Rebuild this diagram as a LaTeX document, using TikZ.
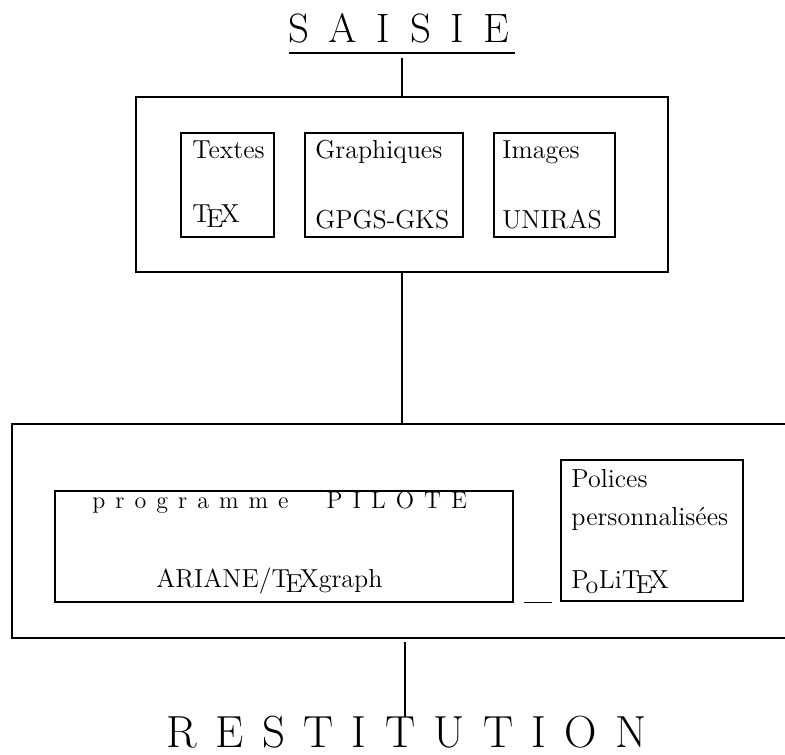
\documentclass[tikz,border=0pt]{standalone}
\usetikzlibrary{fit}
\newdimen\spcgap
\def\spc#1{\spcA#1\relax}
\def\spcA#1{\ifx#1\relax\else#1\kern\spcgap\expandafter\spcA\fi}
\tikzset{
  box/.style={draw, line width=0.7pt, inner sep=0pt},
  lbl/.style={anchor=base west, inner sep=0pt, font=\fontsize{13}{15}\selectfont},
  title/.style={anchor=base west, inner sep=0pt},
  conn/.style={line width=0.7pt}
}
\begin{document}
\begin{tikzpicture}[x=0.5pt,y=-0.5pt]
\useasboundingbox (0,0) rectangle (785,754);
% title
\node[title, font=\fontsize{20.5}{24}\selectfont] (saisie) at (288,43) {\spcgap=9.8pt\spc{SAISI}E};
\coordinate (ul) at (289,53);
\coordinate (ur) at (515,53);
\draw[conn] (ul) -- (ur);
% top box
\node[box, fit={(136,97) (668,272)}] (top) {};
\node[box, fit={(181,133) (274,237)}] (tex) {};
\node[box, fit={(305,133) (463,237)}] (gra) {};
\node[box, fit={(494,133) (615,237)}] (img) {};
\node[lbl] (t1) at (192,159) {Textes};
\node[lbl] (t2) at (192,222) {\TeX};
\node[lbl] (g1) at (315,159) {Graphiques};
\node[lbl] (g2) at (315,228) {GPGS-GKS};
\node[lbl] (i1) at (502,159) {Images};
\node[lbl] (i2) at (502,228) {UNIRAS};
% bottom box
\node[box, fit={(12,424) (800,638)}] (bot) {};
\node[box, fit={(55,491) (513,602)}] (prog) {};
\node[box, fit={(561,460) (743,601)}] (pol) {};
\node[lbl, font=\fontsize{12}{14}\selectfont] (p1) at (92,508) {\spcgap=5pt\spc{programm}e\hspace{19pt}\spc{PILOT}E};
\node[lbl] (p2) at (156,587) {ARIANE/\TeX graph};
\node[lbl] (q1) at (571,487) {Polices};
\node[lbl] (q2) at (571,525) {personnalisées};
\node[lbl] (q3) at (571,588) {P\kern-.12em\lower.45ex\hbox{o}\kern.02em Li\TeX};
\node[title, font=\fontsize{22.5}{26}\selectfont] (rest) at (166,747) {\spcgap=9.2pt\spc{RESTITUTIO}N};
% connectors
\draw[conn] ([yshift=-2.5pt]ul -| top.north) -- (top.north);
\draw[conn] (top.south) -- (top.south |- bot.north);
\draw[conn] ([yshift=-1.5pt]bot.south -| 405,0) -- (405,717);
\draw[conn] ([xshift=5pt]prog.south east) -- ([xshift=-4pt]pol.south west |- prog.south east);
\end{tikzpicture}
\end{document}
